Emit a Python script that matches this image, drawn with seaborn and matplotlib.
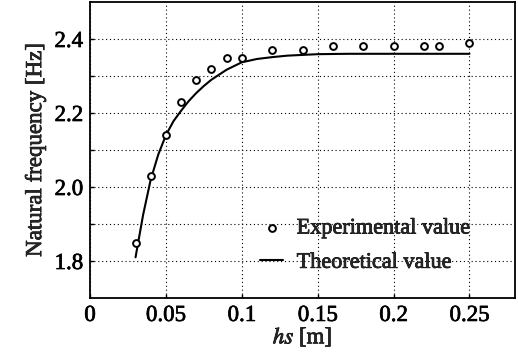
import matplotlib
matplotlib.use("Agg")
import matplotlib.pyplot as plt
import matplotlib.patheffects as pe
import seaborn as sns
import pandas as pd

# Experimental data
exp_hs = [0.03, 0.04, 0.05, 0.06, 0.07, 0.08, 0.09, 0.10, 0.12, 0.14, 0.16, 0.18, 0.20, 0.22, 0.23, 0.25]
exp_freq = [1.85, 2.03, 2.14, 2.23, 2.29, 2.32, 2.35, 2.35, 2.37, 2.37, 2.38, 2.38, 2.38, 2.38, 2.38, 2.39]

# Theoretical curve
theo_hs = [0.03, 0.035, 0.04, 0.045, 0.05, 0.055, 0.06, 0.065, 0.07, 0.075, 0.08, 0.09, 0.10,
           0.11, 0.12, 0.13, 0.14, 0.15, 0.17, 0.20, 0.25]
theo_freq = [1.81, 1.925, 2.02, 2.088, 2.14, 2.178, 2.206, 2.232, 2.254, 2.273, 2.29, 2.317, 2.337,
             2.346, 2.351, 2.355, 2.357, 2.359, 2.36, 2.36, 2.36]

xticks = [0, 0.05, 0.1, 0.15, 0.2, 0.25]
xticklabels = ["0", "0.05", "0.1", "0.15", "0.2", "0.25"]
yticks = [1.8, 1.9, 2.0, 2.1, 2.2, 2.3, 2.4]
yticklabels = ["1.8", "", "2.0", "", "2.2", "", "2.4"]

sns.set_style("ticks")
plt.rcParams['font.family'] = ['Liberation Serif', 'DejaVu Serif']
plt.rcParams['mathtext.fontset'] = 'stix'

fig = plt.figure(figsize=(5.18, 3.63), dpi=100)
ax = fig.add_axes([90/518, 1-298/363, (515-90)/518, (298-2)/363])

df_exp = pd.DataFrame({"hs": exp_hs, "f": exp_freq})
df_theo = pd.DataFrame({"hs": theo_hs, "f": theo_freq})

sns.lineplot(data=df_theo, x="hs", y="f", ax=ax, color="black", linewidth=1.5,
             label="Theoretical value", sort=False, zorder=3)
sns.scatterplot(data=df_exp, x="hs", y="f", ax=ax, marker="o", s=24,
                facecolor="white", edgecolor="black", linewidth=1.4,
                label="Experimental value", zorder=4)

ax.set_xlim(0, 0.28)
ax.set_ylim(1.7, 2.5)
ax.set_xticks(xticks)
ax.set_xticklabels(xticklabels)
ax.set_yticks(yticks)
ax.set_yticklabels(yticklabels)
ax.tick_params(direction="in", length=3, width=1, labelsize=16.5, colors="black", pad=5)
ax.grid(True, linestyle=(0, (1, 2.5)), color="black", linewidth=0.8)
for s in ax.spines.values():
    s.set_linewidth(1.3)
    s.set_color("black")
ax.set_xlabel("$hs$ [m]", fontsize=16.5, labelpad=0)
ax.set_ylabel("Natural frequency [Hz]", fontsize=16.5, labelpad=6)

handles, labels = ax.get_legend_handles_labels()
order = [labels.index("Experimental value"), labels.index("Theoretical value")]
leg = ax.legend([handles[i] for i in order], [labels[i] for i in order],
                loc="lower left", bbox_to_anchor=(0.4, 0.085), frameon=False,
                fontsize=16, handlelength=1.05, handletextpad=0.6, labelspacing=0.62,
                borderaxespad=0.0, borderpad=0.0, markerscale=1.0)

stroke = [pe.withStroke(linewidth=0.5, foreground="black")]
texts = ax.get_xticklabels() + ax.get_yticklabels() + leg.get_texts() + [ax.xaxis.label, ax.yaxis.label]
for t in texts:
    t.set_path_effects(stroke)

fig.savefig("out.png", dpi=100)
